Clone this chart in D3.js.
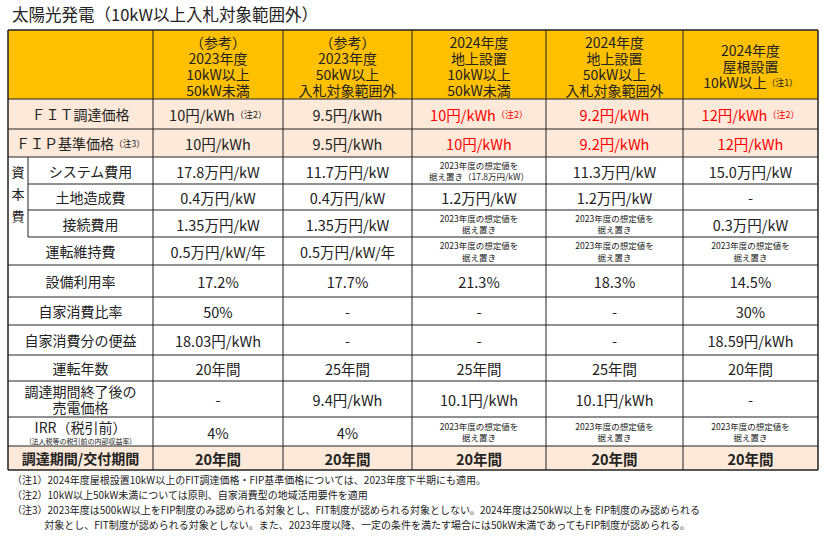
<!DOCTYPE html>
<html><head><meta charset="utf-8">
<script src="https://cdn.jsdelivr.net/npm/d3@7"></script>
<style>body{margin:0;background:#fff}text{font-family:"Noto Sans CJK JP",sans-serif}</style>
</head><body><svg id="c" width="827" height="539"></svg>
<script>
const title = "太陽光発電（10kW以上入札対象範囲外）";
const headers = [
  ["（参考）","2023年度","10kW以上","50kW未満"],
  ["（参考）","2023年度","50kW以上","入札対象範囲外"],
  ["2024年度","地上設置","10kW以上","50kW未満"],
  ["2024年度","地上設置","50kW以上","入札対象範囲外"],
  ["2024年度","屋根設置","10kW以上|（注1）"]
];
const rowLabels = ["ＦＩＴ調達価格","ＦＩＰ基準価格|（注3）","システム費用","土地造成費","接続費用","運転維持費","設備利用率","自家消費比率","自家消費分の便益","運転年数","調達期間終了後の\n売電価格","IRR（税引前）\n(法人税等の税引前の内部収益率)","調達期間/交付期間"];
const S = "2023年度の想定値を\n据え置き";
const cells = [
  ["10円/kWh|（注2）","9.5円/kWh","10円/kWh|（注2）","9.2円/kWh","12円/kWh|（注2）"],
  ["10円/kWh","9.5円/kWh","10円/kWh","9.2円/kWh","12円/kWh"],
  ["17.8万円/kW","11.7万円/kW","2023年度の想定値を\n据え置き（17.8万円/kW）","11.3万円/kW","15.0万円/kW"],
  ["0.4万円/kW","0.4万円/kW","1.2万円/kW","1.2万円/kW","-"],
  ["1.35万円/kW","1.35万円/kW",S,S,"0.3万円/kW"],
  ["0.5万円/kW/年","0.5万円/kW/年",S,S,S],
  ["17.2%","17.7%","21.3%","18.3%","14.5%"],
  ["50%","-","-","-","30%"],
  ["18.03円/kWh","-","-","-","18.59円/kWh"],
  ["20年間","25年間","25年間","25年間","20年間"],
  ["-","9.4円/kWh","10.1円/kWh","10.1円/kWh","-"],
  ["4%","4%",S,S,S],
  ["20年間","20年間","20年間","20年間","20年間"]
];
const notes = [
  "（注1）2024年度屋根設置10kW以上のFIT調達価格・FIP基準価格については、2023年度下半期にも適用。",
  "（注2）10kW以上50kW未満については原則、自家消費型の地域活用要件を適用",
  "（注3）2023年度は500kW以上をFIP制度のみ認められる対象とし、FIT制度が認められる対象としない。2024年度は250kW以上を FIP制度のみ認められる",
  "　　　 対象とし、FIT制度が認められる対象としない。また、2023年度以降、一定の条件を満たす場合には50kW未満であってもFIP制度が認められる。"
];
const colEdges=[8,153,283,412,546,683,818];
const rowEdges=[30,99,129,157,184,210,237,265,297,325,355,381,417,446,470];
const svg=d3.select("#c");
const cx=i=>colEdges[i], ry=i=>rowEdges[i];
svg.append("text").attr("x",12).attr("y",21).attr("font-size",16.5).attr("fill","#222").text(title);
svg.append("rect").attr("x",cx(0)).attr("y",ry(0)).attr("width",cx(6)-cx(0)).attr("height",ry(1)-ry(0)).attr("fill","#FFC000");
[0,1,12].forEach(r=>svg.append("rect").attr("x",cx(0)).attr("y",ry(r+1)).attr("width",cx(6)-cx(0)).attr("height",ry(r+2)-ry(r+1)).attr("fill","#FDE9D9"));
const red=new Set(["0-2","0-3","0-4","1-2","1-3","1-4"]);
function multi(g,x,y,lines,fs,lh,color,bold){
  const n=lines.length;
  lines.forEach((l,k)=>{
    const parts=l.split("|");
    const t=g.append("text").attr("x",x).attr("y",y+(k-(n-1)/2)*lh).attr("dominant-baseline","central").attr("text-anchor","middle").attr("fill",color).attr("font-size",fs).attr("font-weight",bold?"bold":null);
    t.append("tspan").text(parts[0]);
    if(parts[1]) t.append("tspan").attr("font-size",fs*0.62).attr("font-weight","normal").text(parts[1]);
  });
}
headers.forEach((h,i)=>multi(svg,(cx(i+1)+cx(i+2))/2,(ry(0)+ry(1))/2+1,h,14,16,"#222",false));
rowLabels.forEach((lab,r)=>{
  const y=(ry(r+1)+ry(r+2))/2;
  const sub = r>=2&&r<=4;
  const lx = sub?(28+cx(1))/2:(cx(0)+cx(1))/2;
  let lines=lab.split("\n");
  if(r===11){
    svg.append("text").attr("x",lx).attr("y",y-5).attr("text-anchor","middle").attr("dominant-baseline","central").attr("font-size",14).attr("fill","#222").text(lines[0]);
    svg.append("text").attr("x",lx).attr("y",y+9).attr("text-anchor","middle").attr("dominant-baseline","central").attr("font-size",7).attr("fill","#222").text(lines[1]);
  } else multi(svg,lx,y,lines,14,16,"#222",r===12);
  cells[r].forEach((v,c)=>{
    const ls=v.split("\n");
    const small=ls.length>1;
    multi(svg,(cx(c+1)+cx(c+2))/2,y,ls,small?8.5:14.5,small?11.5:16,red.has(r+"-"+c)?"#FF0000":"#222",r===12);
  });
});
["資","本","費"].forEach((ch,k)=>svg.append("text").attr("x",18).attr("y",ry(3)+14+k*22).attr("text-anchor","middle").attr("dominant-baseline","central").attr("font-size",13).attr("fill","#222").text(ch));
const L=svg.append("g").attr("stroke","#222").attr("stroke-width",1);
rowEdges.forEach((y,i)=>{
  const x0=(i>=4&&i<=6)?28:cx(0);
  if(i==0||i==rowEdges.length-1) L.append("line").attr("x1",cx(0)).attr("x2",cx(6)).attr("y1",y).attr("y2",y).attr("stroke-width",1.5);
  else L.append("line").attr("x1",x0).attr("x2",cx(6)).attr("y1",y).attr("y2",y);
});
colEdges.forEach((x,i)=>L.append("line").attr("x1",x).attr("x2",x).attr("y1",ry(0)).attr("y2",ry(14)).attr("stroke-width",i===0||i===6?1.5:1));
L.append("line").attr("x1",28).attr("x2",28).attr("y1",ry(3)).attr("y2",ry(6));
notes.forEach((n,i)=>svg.append("text").attr("x",12).attr("y",484+i*15).attr("font-size",10).attr("fill","#222").text(n));
</script></body></html>
